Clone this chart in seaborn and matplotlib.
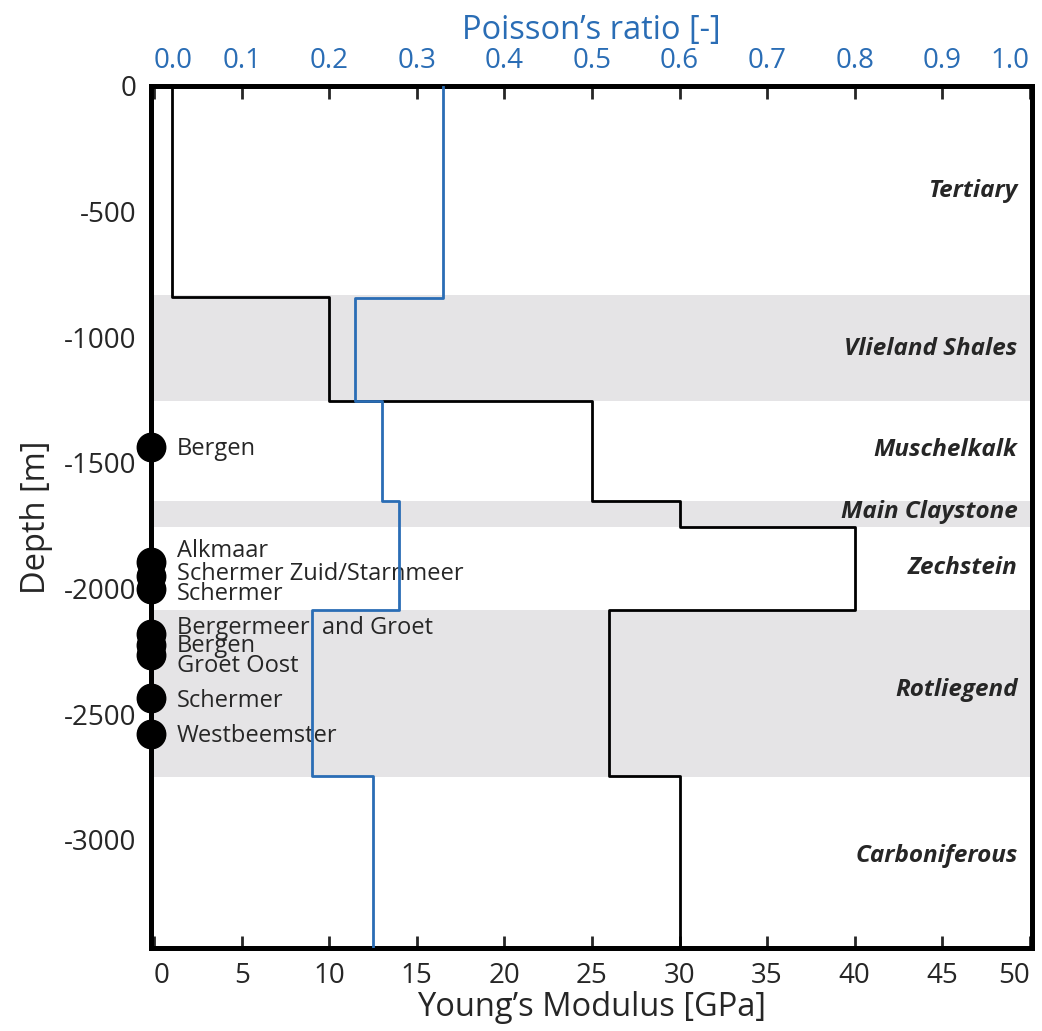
import numpy as np
import pandas as pd
import seaborn as sns
import matplotlib.pyplot as plt

sns.set_style('white')
plt.rcParams['font.family'] = ['Open Sans', 'DejaVu Sans']

# layer model (depth in m, negative downwards)
young_tops = [0, -840, -1255, -1650, -1755, -2085, -2745]
young_bots = [-840, -1255, -1650, -1755, -2085, -2745, -3430]
young_vals = [1, 10, 25, 30, 40, 26, 30]

poisson_tops = [0, -845, -1255, -1650, -2085, -2745]
poisson_bots = [-845, -1255, -1650, -2085, -2745, -3430]
poisson_vals = [0.33, 0.23, 0.26, 0.28, 0.18, 0.25]

band_tops = [-830, -1650, -2085]
band_bots = [-1255, -1755, -2748]

formations = ['Tertiary', 'Vlieland Shales', 'Muschelkalk', 'Main Claystone',
              'Zechstein', 'Rotliegend', 'Carboniferous']
formation_depths = [-417, -1045, -1450, -1696, -1918, -2404, -3064]

wells = ['Bergen', 'Alkmaar', 'Schermer Zuid/Starnmeer', 'Schermer',
         'Bergermeer  and Groet', 'Bergen', 'Groet Oost', 'Schermer', 'Westbeemster']
well_depths = [-1437, -1896, -1948, -2000, -2180, -2225, -2265, -2437, -2578]
well_label_depths = [-1445, -1850, -1943, -2022, -2157, -2228, -2306, -2448, -2585]

blue = '#2a6db5'

def steps(tops, bots, vals):
    xs, ys = [], []
    for t, b, v in zip(tops, bots, vals):
        xs += [v, v]
        ys += [t, b]
    return pd.DataFrame({'x': xs, 'depth': ys})

young_df = steps(young_tops, young_bots, young_vals)
poisson_df = steps(poisson_tops, poisson_bots, poisson_vals)

fig = plt.figure(figsize=(10.42, 10.31), dpi=100)
ax = fig.add_axes([0.1445, 0.0805, 0.8455, 0.8361])

for t, b in zip(band_tops, band_bots):
    ax.axhspan(b, t, color='#e5e4e6', lw=0, zorder=0)

sns.lineplot(data=young_df, x='x', y='depth', sort=False, estimator=None,
             color='black', lw=2, ax=ax, zorder=3)
ax.set_xlim(-0.2, 50.1)
ax.set_ylim(-3430, 0)

ax2 = ax.twiny()
sns.lineplot(data=poisson_df, x='x', y='depth', sort=False, estimator=None,
             color=blue, lw=2, ax=ax2, zorder=3)
ax2.set_xlim(-0.004, 1.002)
ax2.set_ylim(-3430, 0)

ax.scatter([-0.2] * len(well_depths), well_depths, s=420, color='black',
           clip_on=False, zorder=5)
for name, d in zip(wells, well_label_depths):
    ax.text(1.3, d, name, fontsize=17, va='center', ha='left', zorder=6)

for name, d in zip(formations, formation_depths):
    ax.text(49.3, d, name, fontsize=17.5, fontweight='bold', fontstyle='italic',
            va='center', ha='right', zorder=6)

ax.set_xticks(np.arange(0, 51, 5))
ax.set_yticks(np.arange(0, -3001, -500))
ax.set_yticklabels([str(v) for v in np.arange(0, -3001, -500)])
ax2.set_xticks(np.arange(0, 1.01, 0.1))
ax2.set_xticklabels([f'{v:.1f}' for v in np.arange(0, 1.01, 0.1)])

ax.tick_params(axis='both', direction='in', length=9, width=2, labelsize=20, pad=10)
ax2.tick_params(axis='x', direction='in', length=9, width=2, labelsize=20,
                labelcolor=blue, pad=8)

# end labels sit inside the frame, as in the original
for a in (ax, ax2):
    labs = a.get_xticklabels()
    labs[0].set_horizontalalignment('left')
    labs[-1].set_horizontalalignment('right')

ax.set_xlabel("Young’s Modulus [GPa]", fontsize=23.5, labelpad=1)
ax.set_ylabel('Depth [m]', fontsize=23.5, labelpad=8)
ax2.set_xlabel("Poisson’s ratio [-]", fontsize=23.5, color=blue, labelpad=6)

for a in (ax, ax2):
    for s in a.spines.values():
        s.set_linewidth(3.5)
        s.set_color('black')
        s.set_visible(True)

plt.savefig('out.png', dpi=100)
